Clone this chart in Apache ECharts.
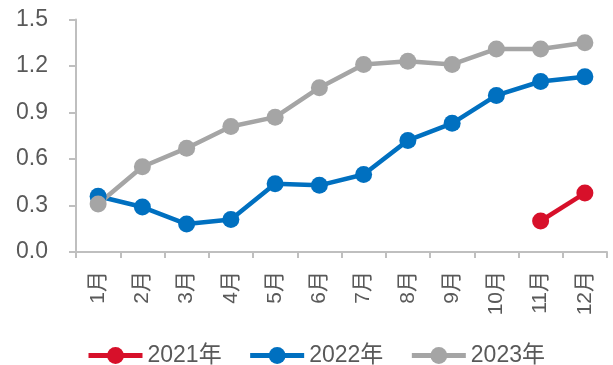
<!DOCTYPE html>
<html>
<head>
<meta charset="utf-8">
<script src="https://cdn.jsdelivr.net/npm/echarts@6/dist/echarts.min.js"></script>
<style>
  html, body { margin: 0; padding: 0; background: #fff; }
  #chart { width: 613px; height: 365px; }
</style>
</head>
<body>
<div id="chart"></div>
<script>
// Monthly values by year
const months = ['1月', '2月', '3月', '4月', '5月', '6月', '7月', '8月', '9月', '10月', '11月', '12月'];
const yearNames = ['2021年', '2022年', '2023年'];
const values2021 = [null, null, null, null, null, null, null, null, null, null, 0.20, 0.38];
const values2022 = [0.36, 0.29, 0.18, 0.21, 0.44, 0.43, 0.50, 0.72, 0.83, 1.01, 1.10, 1.13];
const values2023 = [0.31, 0.55, 0.67, 0.81, 0.87, 1.06, 1.21, 1.23, 1.21, 1.31, 1.31, 1.35];
const yTicks = { min: 0, max: 1.5, interval: 0.3 };

const colors = ['#D7102A', '#0070C0', '#A5A5A5'];
const font = '"Liberation Sans", Arial, "Noto Sans CJK SC", sans-serif';
const textColor = '#595959';
const axisColor = '#BFBFBF';

function lineSeries(name, data, color) {
  return {
    name: name,
    type: 'line',
    data: data,
    symbol: 'circle',
    symbolSize: 17,
    connectNulls: false,
    lineStyle: { color: color, width: 4.5 },
    itemStyle: { color: color },
    emphasis: { disabled: true },
    animation: false
  };
}

const chart = echarts.init(document.getElementById('chart'), null, { renderer: 'canvas' });
chart.setOption({
  animation: false,
  color: colors,
  textStyle: { fontFamily: font },
  grid: { left: 76, right: 6, top: 19.5, bottom: 113, containLabel: false },
  legend: {
    data: yearNames,
    left: 86,
    top: 344,
    padding: 0,
    itemWidth: 54,
    itemHeight: 21,
    itemGap: 26,
    lineStyle: { width: 5 },
    textStyle: { fontFamily: font, fontSize: 23, color: textColor }
  },
  xAxis: {
    type: 'category',
    data: months,
    boundaryGap: true,
    axisLine: { lineStyle: { color: axisColor, width: 2 } },
    axisTick: { show: true, length: 6, lineStyle: { color: axisColor, width: 2 } },
    axisLabel: {
      rotate: 90,
      margin: 19,
      interval: 0,
      fontFamily: font,
      fontSize: 21,
      color: textColor
    },
    splitLine: { show: false }
  },
  yAxis: {
    type: 'value',
    min: yTicks.min,
    max: yTicks.max,
    interval: yTicks.interval,
    axisLine: { show: true, lineStyle: { color: axisColor, width: 2 } },
    axisTick: { show: true, length: 7, lineStyle: { color: axisColor, width: 2 } },
    axisLabel: {
      margin: 28,
      fontFamily: font,
      fontSize: 23,
      color: textColor,
      formatter: v => v.toFixed(1)
    },
    splitLine: { show: false }
  },
  series: [
    lineSeries(yearNames[0], values2021, colors[0]),
    lineSeries(yearNames[1], values2022, colors[1]),
    lineSeries(yearNames[2], values2023, colors[2])
  ]
});
</script>
</body>
</html>
